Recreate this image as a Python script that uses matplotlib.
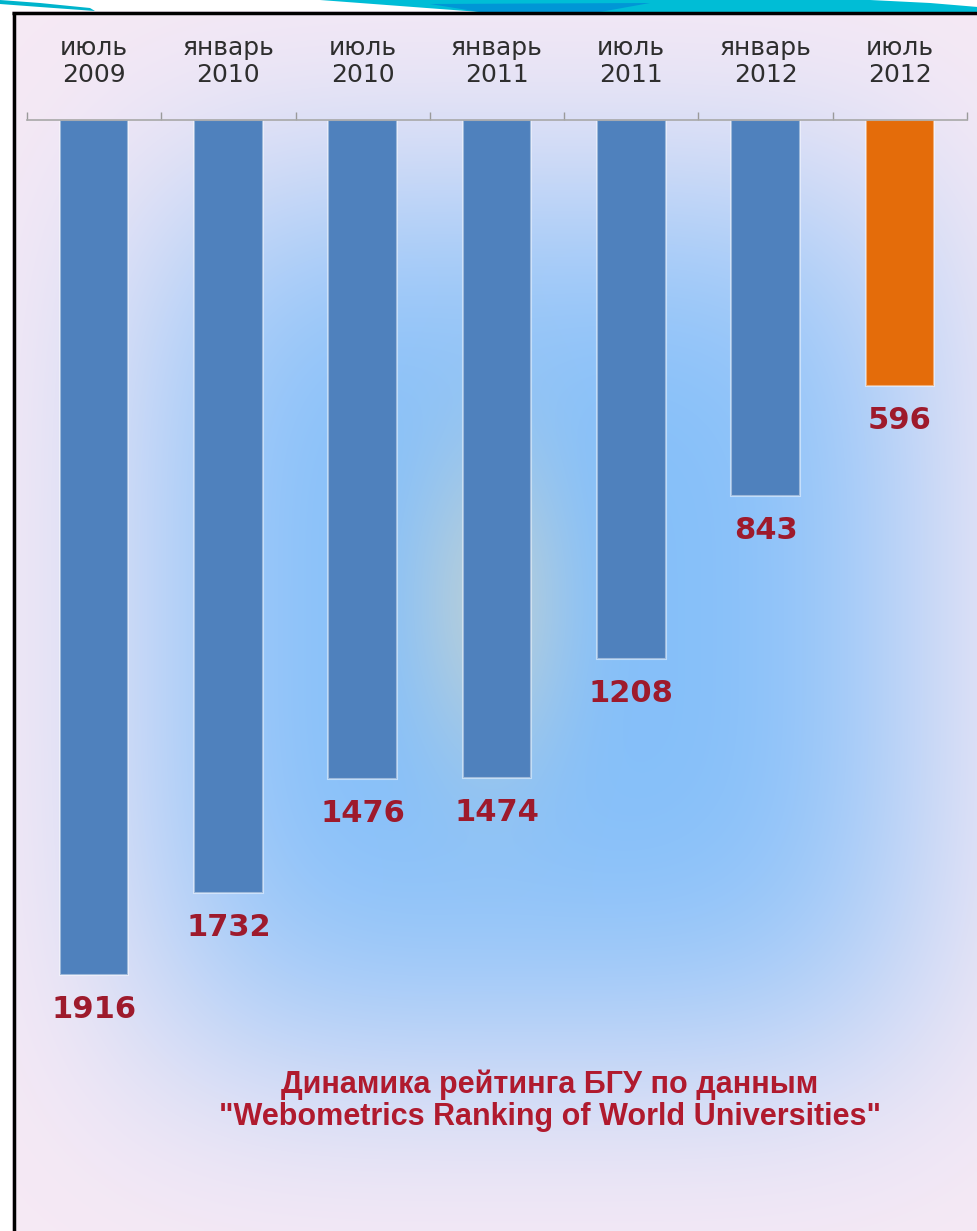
import matplotlib
matplotlib.use('Agg')
import matplotlib.pyplot as plt
from matplotlib.patches import Polygon
import numpy as np

# --- Data: Webometrics rank of BSU ---
periods = ['июль\n2009', 'январь\n2010', 'июль\n2010', 'январь\n2011',
           'июль\n2011', 'январь\n2012', 'июль\n2012']
ranks = [1916, 1732, 1476, 1474, 1208, 843, 596]
highlight = [False, False, False, False, False, False, True]

W, H = 978, 1231
fig = plt.figure(figsize=(W / 100, H / 100), dpi=100)
fig.patch.set_facecolor('white')

# --- Background: lavender edges, saturated blue glow in the middle ---
bg = fig.add_axes([0, 0, 1, 1], zorder=0)
yy, xx = np.mgrid[0:H:4, 0:W:4].astype(float)
base = np.array([0.965, 0.915, 0.96])
img = np.ones(xx.shape + (3,)) * base
glow = np.exp(-(np.abs(xx - 530) / 410) ** 4 - (np.abs(yy - 620) / 460) ** 4)
img = img * (1 - glow[..., None]) + np.array([0.52, 0.75, 0.98]) * glow[..., None]
warm = 0.55 * np.exp(-((xx - 490) / 80) ** 2 - ((yy - 600) / 170) ** 2)
img = img * (1 - warm[..., None]) + np.array([0.86, 0.85, 0.76]) * warm[..., None]
bg.imshow(img, extent=(0, W, H, 0), aspect='auto', interpolation='bilinear')
bg.set_xlim(0, W)
bg.set_ylim(H, 0)
bg.axis('off')

# --- Main bar chart (ranks hang down from the top axis) ---
ax = fig.add_axes([27 / W, 0, 940 / W, (H - 120) / H], zorder=1)
ax.patch.set_alpha(0)
x = np.arange(len(ranks))
colors = ['#E46C0A' if h else '#4F81BD' for h in highlight]
bars = ax.bar(x, ranks, width=0.51, color=colors,
              edgecolor=(1, 1, 1, 0.45), linewidth=1.5)

scale = 855 / 1916  # px per rank unit
ax.set_xlim(-0.5, len(ranks) - 0.5)
ax.set_ylim((H - 120) / scale, 0)

for xi, v in zip(x, ranks):
    ax.annotate(str(v), xy=(xi, v), xytext=(0, -25), textcoords='offset points',
                ha='center', va='center', fontsize=22, fontweight='bold',
                color='#9E1A2C')

ax.xaxis.tick_top()
ax.set_xticks(x)
ax.set_xticklabels(periods, fontsize=18, color='#2E2E2E', linespacing=1.15)
ax.set_xticks(np.arange(-0.5, len(ranks)), minor=True)
ax.tick_params(axis='x', which='major', length=0, pad=24)
ax.tick_params(axis='x', which='minor', length=6, color='#9A9A9A', width=1)
ax.set_yticks([])
for s in ['bottom', 'left', 'right']:
    ax.spines[s].set_visible(False)
ax.spines['top'].set_color('#A8A8A8')
ax.spines['top'].set_linewidth(1.2)

fig.text(550 / W, 1 - 1101 / H,
         'Динамика рейтинга БГУ по данным\n"Webometrics Ranking of World Universities"',
         ha='center', va='center', fontsize=22, fontweight='bold',
         family='Liberation Sans', fontstretch='condensed',
         color='#B01A2E', linespacing=1.1)

# --- Slide frame and teal swoosh on top ---
ov = fig.add_axes([0, 0, 1, 1], zorder=3)
ov.set_xlim(0, W)
ov.set_ylim(H, 0)
ov.axis('off')
ov.add_patch(Polygon([(0, 0), (W, 0), (W, 11), (0, 11)], closed=True,
                     facecolor='white', edgecolor='none'))
ov.add_patch(Polygon([(0, 0), (12, 0), (12, H), (0, H)], closed=True,
                     facecolor='white', edgecolor='none'))
ov.add_patch(Polygon([(0, 0), (40, 3), (90, 8), (95, 11), (40, 7), (0, 4)],
                     closed=True, facecolor='#00B4CC', edgecolor='none'))
ov.add_patch(Polygon([(320, 0), (870, 0), (930, 3), (978, 7), (978, 12),
                      (700, 12), (480, 12), (400, 6)],
                     closed=True, facecolor='#00BDD6', edgecolor='none'))
ov.add_patch(Polygon([(430, 4), (650, 3), (600, 12), (480, 12)],
                     closed=True, facecolor='#0096D6', edgecolor='none'))
ov.plot([12, W], [12.5, 12.5], color='black', lw=2.5, solid_capstyle='butt')
ov.plot([13.5, 13.5], [12, H], color='black', lw=2.5, solid_capstyle='butt')

plt.savefig('out.png', dpi=100, facecolor='white')
plt.close()
